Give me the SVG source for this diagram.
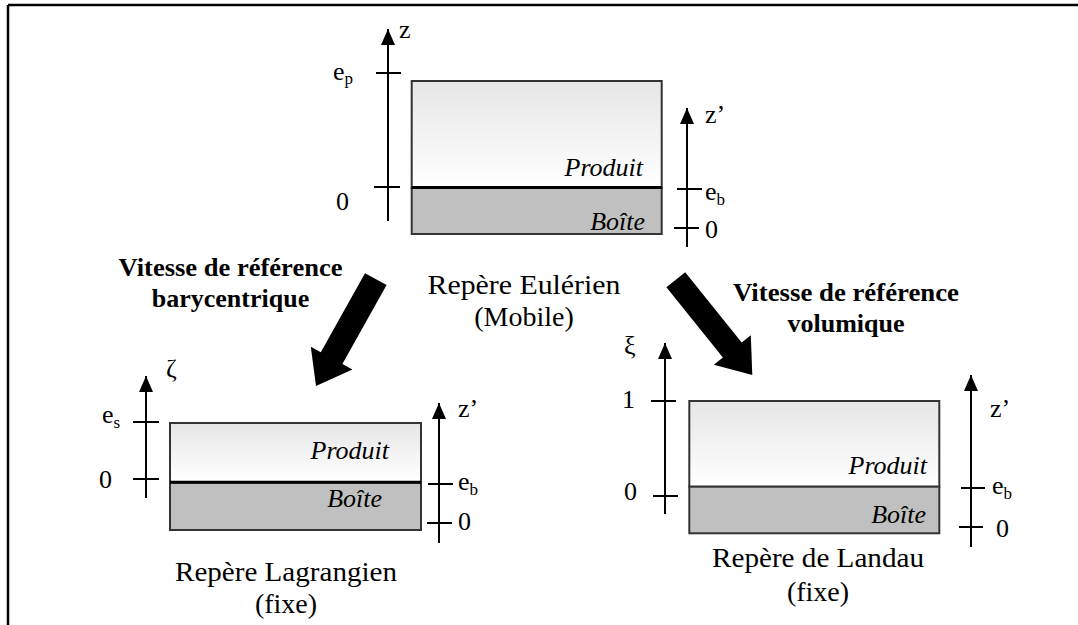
<svg xmlns="http://www.w3.org/2000/svg" width="1078" height="625" viewBox="0 0 1078 625">
<style>
  .ax{stroke:#000;stroke-width:2;fill:none}
  .tk{stroke:#000;stroke-width:2}
  .box{stroke:#333;stroke-width:2}
  .lbl{font-family:"Liberation Serif","Times New Roman",serif;font-size:26px;fill:#000}
  .sub{font-family:"Liberation Serif","Times New Roman",serif;font-size:17px;fill:#000}
  .it{font-family:"Liberation Serif","Times New Roman",serif;font-size:26px;font-style:italic;fill:#000;text-anchor:end}
  .cap{font-family:"Liberation Serif","Times New Roman",serif;font-size:28px;fill:#000;text-anchor:middle}
  .bold{font-family:"Liberation Serif","Times New Roman",serif;font-size:26px;font-weight:bold;fill:#000;text-anchor:middle}
  .big{fill:#000}
</style>
<defs>
  <linearGradient id="prod" x1="0" y1="0" x2="0" y2="1">
    <stop offset="0" stop-color="#e6e6e6"/>
    <stop offset="1" stop-color="#ffffff"/>
  </linearGradient>
  <marker id="ah" markerWidth="16" markerHeight="14" refX="16" refY="7" orient="auto" markerUnits="userSpaceOnUse">
    <path d="M0,0 L16,7 L0,14 Z" fill="#000"/>
  </marker>
</defs>
<rect width="1078" height="625" fill="#fff"/>
<g id="frame">
  <line x1="8" y1="5" x2="1078" y2="5" stroke="#000" stroke-width="2.5"/>
  <line x1="8" y1="5" x2="8" y2="625" stroke="#000" stroke-width="2.5"/>
</g>

<g id="eulerien">
  <rect x="411.7" y="81" width="250" height="107" fill="url(#prod)" class="box"/>
  <rect x="411.7" y="188" width="250" height="46" fill="#c0c0c0" class="box"/>
  <line x1="411.7" y1="187.5" x2="661.7" y2="187.5" stroke="#000" stroke-width="3"/>
  <text class="it" x="643" y="176">Produit</text>
  <text class="it" x="645" y="230">Boîte</text>
  <line class="ax" x1="388" y1="221" x2="388" y2="29" marker-end="url(#ah)"/>
  <line class="tk" x1="376" y1="73" x2="401" y2="73"/>
  <line class="tk" x1="374" y1="187" x2="400" y2="187"/>
  <text class="lbl" x="399" y="38">z</text>
  <text class="lbl" x="333" y="80">e<tspan class="sub" dy="4">p</tspan></text>
  <text class="lbl" x="336" y="210">0</text>
  <line class="ax" x1="687" y1="247" x2="687" y2="108" marker-end="url(#ah)"/>
  <line class="tk" x1="677" y1="189" x2="702" y2="189"/>
  <line class="tk" x1="674" y1="228" x2="699" y2="228"/>
  <text class="lbl" x="705" y="123">z’</text>
  <text class="lbl" x="705" y="200">e<tspan class="sub" dy="5">b</tspan></text>
  <text class="lbl" x="705" y="238">0</text>
  <text class="cap" x="524" y="294" textLength="193" lengthAdjust="spacingAndGlyphs">Repère Eulérien</text>
  <text class="cap" x="524" y="326">(Mobile)</text>
</g>

<g id="lagrangien">
  <rect x="170" y="423" width="251" height="59" fill="url(#prod)" class="box"/>
  <rect x="170" y="482.5" width="251" height="47.5" fill="#c0c0c0" class="box"/>
  <line x1="170" y1="482.3" x2="421" y2="482.3" stroke="#000" stroke-width="3"/>
  <text class="it" x="389" y="459">Produit</text>
  <text class="it" x="382" y="507">Boîte</text>
  <line class="ax" x1="146" y1="498" x2="146" y2="376" marker-end="url(#ah)"/>
  <line class="tk" x1="133" y1="422" x2="159" y2="422"/>
  <line class="tk" x1="133" y1="479" x2="159" y2="479"/>
  <text class="lbl" x="166" y="377">ζ</text>
  <text class="lbl" x="102" y="423">e<tspan class="sub" dy="5">s</tspan></text>
  <text class="lbl" x="99" y="488">0</text>
  <line class="ax" x1="439" y1="543" x2="439" y2="403" marker-end="url(#ah)"/>
  <line class="tk" x1="428" y1="484" x2="453" y2="484"/>
  <line class="tk" x1="427" y1="523" x2="452" y2="523"/>
  <text class="lbl" x="458" y="417">z’</text>
  <text class="lbl" x="458" y="490">e<tspan class="sub" dy="5">b</tspan></text>
  <text class="lbl" x="458" y="530">0</text>
  <text class="cap" x="286" y="581" textLength="222" lengthAdjust="spacingAndGlyphs">Repère Lagrangien</text>
  <text class="cap" x="286" y="613">(fixe)</text>
</g>

<g id="landau">
  <rect x="689.3" y="401" width="250" height="85.7" fill="url(#prod)" class="box"/>
  <rect x="689.3" y="486.7" width="250" height="46.6" fill="#c0c0c0" class="box"/>
  <text class="it" x="927" y="474">Produit</text>
  <text class="it" x="926" y="523">Boîte</text>
  <line class="ax" x1="665" y1="514" x2="665" y2="343" marker-end="url(#ah)"/>
  <line class="tk" x1="651" y1="401" x2="676" y2="401"/>
  <line class="tk" x1="653" y1="496" x2="678" y2="496"/>
  <text class="lbl" x="624" y="354">ξ</text>
  <text class="lbl" x="622" y="408">1</text>
  <text class="lbl" x="624" y="500">0</text>
  <line class="ax" x1="971" y1="547" x2="971" y2="375" marker-end="url(#ah)"/>
  <line class="tk" x1="961" y1="488" x2="985" y2="488"/>
  <line class="tk" x1="959" y1="527" x2="983" y2="527"/>
  <text class="lbl" x="990" y="417">z’</text>
  <text class="lbl" x="992" y="494">e<tspan class="sub" dy="5">b</tspan></text>
  <text class="lbl" x="996" y="537">0</text>
  <text class="cap" x="818" y="567" textLength="212" lengthAdjust="spacingAndGlyphs">Repère de Landau</text>
  <text class="cap" x="818" y="601">(fixe)</text>
</g>

<g id="label-barycentrique">
  <text class="bold" x="230.5" y="276" textLength="224" lengthAdjust="spacingAndGlyphs">Vitesse de référence</text>
  <text class="bold" x="230.5" y="307">barycentrique</text>
</g>
<g id="label-volumique">
  <text class="bold" x="846" y="301" textLength="226" lengthAdjust="spacingAndGlyphs">Vitesse de référence</text>
  <text class="bold" x="846" y="332">volumique</text>
</g>

<g id="connectors">
  <polygon class="big" points="365,273.3 386.6,285.1 342.4,364 352.4,369.5 316,386 310.8,346.7 320.8,352.2"/>
  <polygon class="big" points="666.4,287.2 685.2,272.2 741.7,342.5 750.8,335.2 752.3,375 713.8,364.8 722.9,357.5"/>
</g>
</svg>
